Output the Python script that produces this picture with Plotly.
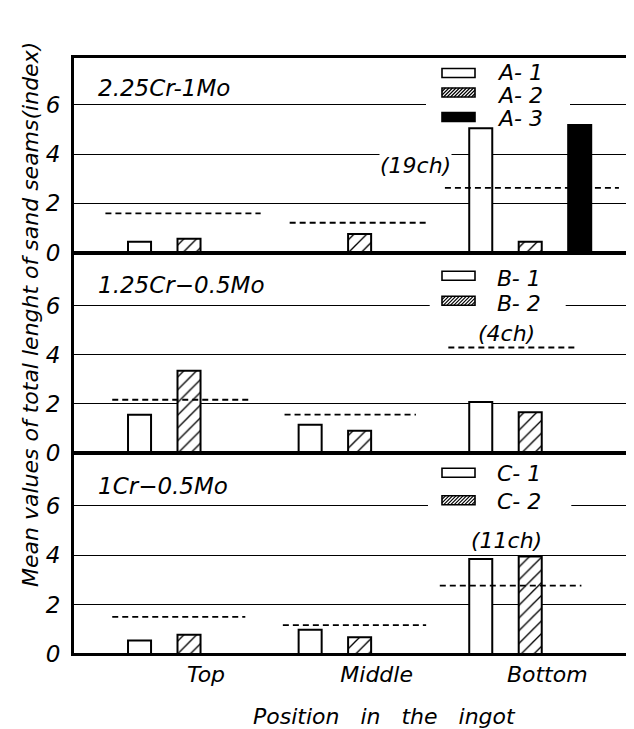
import plotly.graph_objects as go
from plotly.subplots import make_subplots

# ---------------- data ----------------
positions = ["Top", "Middle", "Bottom"]
alloys = ["2.25Cr-1Mo", "1.25Cr\u22120.5Mo", "1Cr\u22120.5Mo"]

a1 = [0.44, None, 5.05]
a2 = [0.56, 0.75, 0.44]
a3 = [None, None, 5.19]
b1 = [1.56, 1.15, 2.08]
b2 = [3.35, 0.91, 1.66]
c1 = [0.55, 0.98, 3.85]
c2 = [0.78, 0.68, 3.95]

mean_a = [1.59, 1.21, 2.63]
mean_b = [2.17, 1.56, 4.30]
mean_c = [1.50, 1.17, 2.77]

charge_notes = ["(19ch)", "(4ch)", "(11ch)"]
y_ticks = [0, 2, 4, 6]

# ---------------- layout helpers (positions / styles) ----------------
W, H = 634, 729
ML, MR, MT, MB = 65, 6, 49, 83
PW, PH = W - ML - MR, H - MT - MB
FONT = "DejaVu Sans"

def pxx(x):  # pixel -> paper x
    return (x - ML) / PW

def pxy(y):  # pixel -> paper y
    return (H - MB - y) / PH

slot_off = [-0.29, 0.0, 0.29]
bar_w = 0.135
x_range = [-0.68, 2.62]

panels = [
    dict(series=[("A- 1", a1, "open"), ("A- 2", a2, "hatch"), ("A- 3", a3, "solid")],
         mean=mean_a, ext=[(-0.49, 0.42), (-0.41, 0.39), (-0.50, 0.52)],
         note=(1.33, 3.54, True), label_y=6.70,
         leg_y=[65, 84.5, 109], leg_ty=[64, 87, 110], gap=(418, 562, 96.7),
         domain=[0.6725, 1.0], yr=7.95),
    dict(series=[("B- 1", b1, "open"), ("B- 2", b2, "hatch")],
         mean=mean_b, ext=[(-0.45, 0.36), (-0.44, 0.33), (-0.48, 0.27)],
         note=(1.86, 4.85, False), label_y=6.86,
         leg_y=[267.7, 292.7], leg_ty=[270, 295], gap=(421.7, 557.7, 297.7),
         domain=[0.3367, 0.6725], yr=8.17),
    dict(series=[("C- 1", c1, "open"), ("C- 2", c2, "hatch")],
         mean=mean_c, ext=[(-0.45, 0.33), (-0.45, 0.39), (-0.53, 0.30)],
         note=(1.86, 4.60, False), label_y=6.80,
         leg_y=[464.7, 492.3], leg_ty=[465, 494], gap=(420, 563.3, 497.3),
         domain=[0.0, 0.3367], yr=8.14),
]

fig = make_subplots(rows=3, cols=1, shared_xaxes=True, vertical_spacing=0)

xs = list(range(len(positions)))
shapes = []
annotations = []

for r, p in enumerate(panels, start=1):
    for s, (name, vals, kind) in enumerate(p["series"]):
        marker = dict(line=dict(color="black", width=2))
        if kind == "open":
            marker["color"] = "white"
        elif kind == "solid":
            marker["color"] = "black"
        else:
            marker["color"] = "white"
            marker["pattern"] = dict(shape="/", fgcolor="black", bgcolor="white",
                                     fgopacity=1, size=9, solidity=0.15)
        fig.add_trace(go.Bar(x=xs, y=vals, name=name, width=bar_w,
                             offset=slot_off[s] - bar_w / 2, marker=marker,
                             showlegend=False), row=r, col=1)
    # mean (dashed) lines
    for i, m in enumerate(p["mean"]):
        e0, e1 = p["ext"][i]
        fig.add_trace(go.Scatter(x=[xs[i] + e0, xs[i] + e1], y=[m, m], mode="lines",
                                 line=dict(color="black", width=1.8, dash="6px,4px"),
                                 showlegend=False, hoverinfo="skip"), row=r, col=1)
    yref = "y" if r == 1 else f"y{r}"
    xref = "x" if r == 1 else f"x{r}"
    # alloy label
    annotations.append(dict(x=-0.545, y=p["label_y"], xref=xref, yref=yref,
                            text=alloys[r - 1], showarrow=False, xanchor="left",
                            yanchor="middle",
                            font=dict(family=FONT, size=23, color="black", style="italic")))
    # charge note
    nx, ny, bg = p["note"]
    annotations.append(dict(x=nx, y=ny, xref=xref, yref=yref, text=charge_notes[r - 1],
                            showarrow=False, xanchor="center", yanchor="middle",
                            bgcolor="white" if bg else "rgba(0,0,0,0)", borderpad=0,
                            font=dict(family=FONT, size=22, color="black", style="italic")))
    # gap in grid line behind legend
    g0, g1, gy = p["gap"]
    shapes.append(dict(type="rect", xref="paper", yref="paper", x0=pxx(g0), x1=pxx(g1),
                       y0=pxy(gy + 3), y1=pxy(gy - 3), fillcolor="white",
                       line=dict(width=0), layer="above"))
    # legend entries
    bx0, bx1, bh = 434, 467, 9
    for k, (name, vals, kind) in enumerate(p["series"]):
        cy = p["leg_y"][k]
        fill = "black" if kind == "solid" else "white"
        shapes.append(dict(type="rect", xref="paper", yref="paper",
                           x0=pxx(bx0), x1=pxx(bx1), y0=pxy(cy + bh / 2), y1=pxy(cy - bh / 2),
                           fillcolor=fill, line=dict(color="black", width=1.6), layer="above"))
        if kind == "hatch":
            path = ""
            a = -bh
            while a < (bx1 - bx0):
                sx, sy = a, 0.0
                ex, ey = a + bh, bh
                if sx < 0:
                    sy = -sx
                    sx = 0.0
                if ex > (bx1 - bx0):
                    ey = bh - (ex - (bx1 - bx0))
                    ex = bx1 - bx0
                x0p = pxx(bx0 + sx)
                y0p = pxy(cy + bh / 2 - sy)
                x1p = pxx(bx0 + ex)
                y1p = pxy(cy + bh / 2 - ey)
                path += f"M{x0p},{y0p} L{x1p},{y1p} "
                a += 3.5
            shapes.append(dict(type="path", xref="paper", yref="paper", path=path,
                               line=dict(color="black", width=1.2), layer="above"))
        annotations.append(dict(x=pxx(487), y=pxy(p["leg_ty"][k]), xref="paper", yref="paper",
                                text=name, showarrow=False, xanchor="left", yanchor="middle",
                                font=dict(family=FONT, size=22, color="black", style="italic")))

# outer frame
shapes.append(dict(type="rect", xref="paper", yref="paper", x0=0, x1=1, y0=0, y1=1,
                   line=dict(color="black", width=2), fillcolor="rgba(0,0,0,0)", layer="above"))

# axis titles
annotations.append(dict(x=pxx(22), y=pxy(307), xref="paper", yref="paper",
                        text="Mean values of total lenght of sand seams(index)",
                        textangle=-90, showarrow=False, xanchor="center", yanchor="middle",
                        font=dict(family=FONT, size=22, color="black", style="italic")))
annotations.append(dict(x=pxx(376), y=pxy(708), xref="paper", yref="paper",
                        text="Position\u00a0\u00a0 in\u00a0\u00a0 the\u00a0\u00a0 ingot",
                        showarrow=False, xanchor="center", yanchor="middle",
                        font=dict(family=FONT, size=22, color="black", style="italic")))

for r, p in enumerate(panels, start=1):
    ykey = "yaxis" if r == 1 else f"yaxis{r}"
    xkey = "xaxis" if r == 1 else f"xaxis{r}"
    fig.layout[ykey].update(domain=p["domain"], range=[0, p["yr"]], tickvals=y_ticks,
                            showgrid=True, gridcolor="black", gridwidth=1.3, zeroline=False,
                            showline=True, mirror=True, linecolor="black", linewidth=2,
                            ticks="", ticklabelstandoff=6, automargin=False,
                            tickfont=dict(family=FONT, size=23, color="black", style="italic"))
    fig.layout[xkey].update(range=x_range, showgrid=False, zeroline=False,
                            showline=True, mirror=True, linecolor="black", linewidth=2,
                            ticks="", tickvals=xs, ticktext=positions, automargin=False,
                            showticklabels=(r == 3), ticklabelshift=17,
                            tickfont=dict(family=FONT, size=22, color="black", style="italic"))

fig.update_layout(width=W, height=H, margin=dict(l=ML, r=MR, t=MT, b=MB, autoexpand=False),
                  paper_bgcolor="white", plot_bgcolor="white", barmode="overlay",
                  showlegend=False, shapes=shapes, annotations=annotations)

fig.write_html("out.html")
